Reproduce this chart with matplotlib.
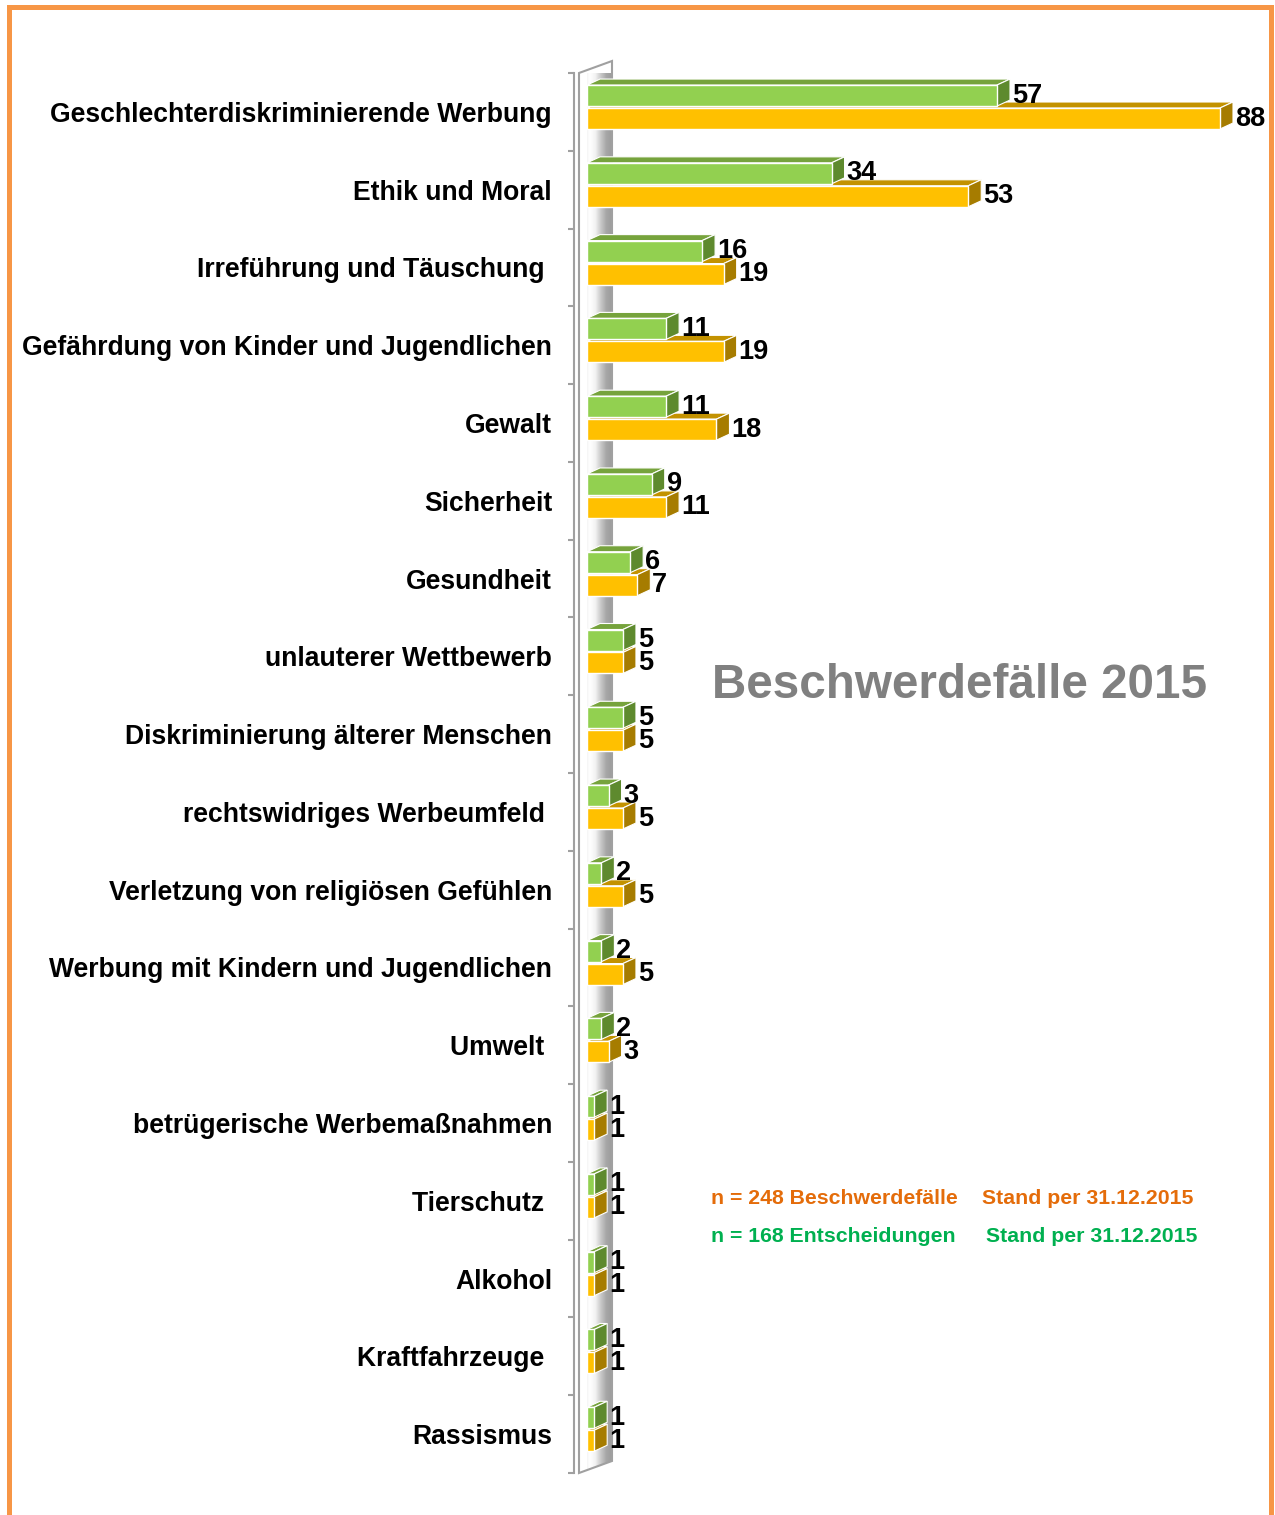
import numpy as np
import matplotlib
matplotlib.use("Agg")
import matplotlib.pyplot as plt
from matplotlib.patches import Polygon, Rectangle
from matplotlib.colors import LinearSegmentedColormap

plt.rcParams['font.family'] = ['Liberation Sans', 'DejaVu Sans']

# ---------------- data ----------------
categories = [
    "Geschlechterdiskriminierende Werbung",
    "Ethik und Moral",
    "Irreführung und Täuschung ",
    "Gefährdung von Kinder und Jugendlichen",
    "Gewalt",
    "Sicherheit",
    "Gesundheit",
    "unlauterer Wettbewerb",
    "Diskriminierung älterer Menschen",
    "rechtswidriges Werbeumfeld ",
    "Verletzung von religiösen Gefühlen",
    "Werbung mit Kindern und Jugendlichen",
    "Umwelt ",
    "betrügerische Werbemaßnahmen",
    "Tierschutz ",
    "Alkohol",
    "Kraftfahrzeuge ",
    "Rassismus",
]
entscheidungen = [57, 34, 16, 11, 11, 9, 6, 5, 5, 3, 2, 2, 2, 1, 1, 1, 1, 1]
beschwerden = [88, 53, 19, 19, 18, 11, 7, 5, 5, 5, 5, 5, 3, 1, 1, 1, 1, 1]

title = "Beschwerdefälle 2015"
note_orange = ["n = 248 Beschwerdefälle", "Stand per 31.12.2015"]
note_green = ["n = 168 Entscheidungen", "Stand per 31.12.2015"]

# ---------------- styling ----------------
W, H = 1275, 1515
fig = plt.figure(figsize=(W / 100, H / 100), dpi=100)
fig.patch.set_facecolor('white')

ax = fig.add_axes([587 / W, 42 / H, 633 / W, 1400 / H])
XMAX = 88
n = len(categories)
ax.set_xlim(0, XMAX)
ax.set_ylim(n - 0.5, -0.5)

px_x = ax.bbox.width / XMAX      # pixels per x unit
px_y = ax.bbox.height / n        # pixels per category
DX = 13 / px_x
DY = 6 / px_y

GREEN_FRONT, GREEN_TOP, GREEN_SIDE = '#92D050', '#76A33C', '#5E8A2E'
YEL_FRONT, YEL_TOP, YEL_SIDE = '#FFC000', '#C39200', '#A67C00'

h = 0.27
off_green = -0.21
off_yel = 0.085
y = np.arange(n)


def draw_series(values, off, front, top, side, z):
    ctr = y + off
    for c, v in zip(ctr, values):
        t = c - h / 2
        b = c + h / 2
        top_poly = [(0, t), (v, t), (v + DX, t - DY), (DX, t - DY)]
        side_poly = [(v, t), (v + DX, t - DY), (v + DX, b - DY), (v, b)]
        ax.add_patch(Polygon(top_poly, closed=True, facecolor=top,
                             edgecolor='white', linewidth=0.8, zorder=z,
                             clip_on=False))
        ax.add_patch(Polygon(side_poly, closed=True, facecolor=side,
                             edgecolor='white', linewidth=0.8, zorder=z,
                             clip_on=False))
    bars = ax.barh(ctr, values, height=h, color=front, edgecolor='white',
                   linewidth=1.0, zorder=z + 0.5)
    for b in bars:
        b.set_clip_on(False)
    for c, v in zip(ctr, values):
        ax.annotate(str(v), xy=(v, c), xytext=(15, 0),
                    textcoords='offset pixels', ha='left', va='center',
                    fontsize=19.5, fontweight='bold', color='black',
                    zorder=z + 1, annotation_clip=False)


draw_series(beschwerden, off_yel, YEL_FRONT, YEL_TOP, YEL_SIDE, 3)
draw_series(entscheidungen, off_green, GREEN_FRONT, GREEN_TOP, GREEN_SIDE, 5)

# ---------------- wall ----------------
wl = -8 / px_x
WX = 33 / px_x
WY = 12 / px_y
wall = [(wl, n - 0.5), (wl, -0.5), (wl + WX, -0.5 - WY), (wl + WX, n - 0.5 - WY)]
wall_patch = Polygon(wall, closed=True, facecolor='none', edgecolor='#A0A0A0',
                     linewidth=1.5, zorder=2, clip_on=False)
ax.add_patch(wall_patch)
cmap = LinearSegmentedColormap.from_list(
    'wall', ['#D4D4D4', '#EDEDED', '#FFFFFF', '#F2F2F2', '#C8C8C8',
             '#A6A6A6', '#9C9C9C'])
grad = np.linspace(0, 1, 256).reshape(1, -1)
im = ax.imshow(grad, cmap=cmap, aspect='auto',
               extent=(wl, wl + WX, n - 0.5, -0.5 - WY), zorder=1,
               interpolation='bilinear')
im.set_clip_path(wall_patch)
im.set_clip_box(None)
ax.set_xlim(0, XMAX)
ax.set_ylim(n - 0.5, -0.5)

# ---------------- axes styling ----------------
for s in ['top', 'right', 'bottom']:
    ax.spines[s].set_visible(False)
ax.spines['left'].set_position(('outward', 13 * 0.72))
ax.spines['left'].set_color('#A0A0A0')
ax.spines['left'].set_linewidth(1.5)
ax.xaxis.set_visible(False)
ax.set_yticks(y)
ax.set_yticklabels(categories, fontsize=19.1, fontweight='bold')
ax.tick_params(axis='y', which='major', length=0, pad=22 * 0.72)
ax.set_yticks(np.arange(-0.5, n, 1.0), minor=True)
ax.tick_params(axis='y', which='minor', length=6 * 0.72, width=1.5,
               color='#A0A0A0', direction='out')
ax.set_facecolor('none')

# ---------------- texts ----------------
fig.text(712 / W, 1 - 698 / H, title, fontsize=34.3, fontweight='bold',
         color='#808080', ha='left', va='baseline')
fig.text(711 / W, 1 - 1204 / H, note_orange[0], fontsize=15.3, fontweight='bold',
         color='#E46C0A', ha='left', va='baseline')
fig.text(982 / W, 1 - 1204 / H, note_orange[1], fontsize=15.3, fontweight='bold',
         color='#E46C0A', ha='left', va='baseline')
fig.text(711 / W, 1 - 1242 / H, note_green[0], fontsize=15.3, fontweight='bold',
         color='#00B050', ha='left', va='baseline')
fig.text(986 / W, 1 - 1242 / H, note_green[1], fontsize=15.3, fontweight='bold',
         color='#00B050', ha='left', va='baseline')

# ---------------- border ----------------
fig.patches.append(Rectangle((9.3 / W, -0.05), (1271 - 9.3) / W,
                             1 - 6.7 / H + 0.05, transform=fig.transFigure,
                             fill=False, edgecolor='#F79646', linewidth=5 * 0.72,
                             zorder=0))

fig.savefig('out.png', dpi=100, facecolor='white')
